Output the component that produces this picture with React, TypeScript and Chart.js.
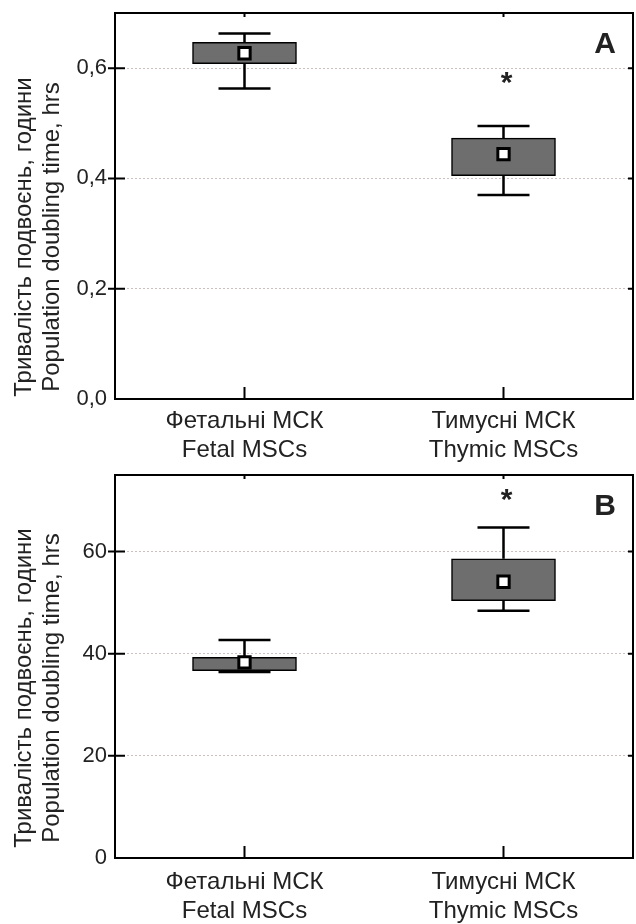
import React, { useEffect, useRef } from 'react';
import { Chart, registerables } from 'chart.js';

Chart.register(...registerables);

const FONT = 'Arial, "Liberation Sans", sans-serif';
const TEXT = '#222';

// ---- data ----
const categoriesUa = ['Фетальні МСК', 'Тимусні МСК'];
const categoriesEn = ['Fetal MSCs', 'Thymic MSCs'];
const axisTitleUa = 'Тривалість подвоєнь, години';
const axisTitleEn = 'Population doubling time, hrs';

// Panel A
const yTicksA = [0, 0.2, 0.4, 0.6];
const whiskerLowA = [0.563, 0.37];
const q1A = [0.608, 0.405];
const q3A = [0.647, 0.473];
const whiskerHighA = [0.663, 0.495];
const meanA = [0.627, 0.444];
const signifA = ['', '*'];
const signifPosA = [0, 0.582];

// Panel B
const yTicksB = [0, 20, 40, 60];
const whiskerLowB = [36.4, 48.4];
const q1B = [36.7, 50.4];
const q3B = [39.3, 58.6];
const whiskerHighB = [42.7, 64.7];
const meanB = [38.3, 54.1];
const signifB = ['', '*'];
const signifPosB = [0, 71.1];

type PanelCfg = {
  letter: string;
  yMax: number;
  yTicks: number[];
  fmt: (v: number) => string;
  low: number[];
  q1: number[];
  q3: number[];
  high: number[];
  mean: number[];
  signif: string[];
  signifPos: number[];
  xAxisHeight: number;
  xLabelPad: number;
  titleCenterY: number;
};

const panels: PanelCfg[] = [
  {
    letter: 'A',
    yMax: 0.7,
    yTicks: yTicksA,
    fmt: (v) => v.toFixed(1).replace('.', ','),
    low: whiskerLowA,
    q1: q1A,
    q3: q3A,
    high: whiskerHighA,
    mean: meanA,
    signif: signifA,
    signifPos: signifPosA,
    xAxisHeight: 63,
    xLabelPad: 8,
    titleCenterY: 237,
  },
  {
    letter: 'B',
    yMax: 75,
    yTicks: yTicksB,
    fmt: (v) => String(Math.round(v)),
    low: whiskerLowB,
    q1: q1B,
    q3: q3B,
    high: whiskerHighB,
    mean: meanB,
    signif: signifB,
    signifPos: signifPosB,
    xAxisHeight: 66,
    xLabelPad: 10,
    titleCenterY: 226,
  },
];

function makeDecor(cfg: PanelCfg) {
  return {
    id: 'boxDecor',
    afterDatasetDraw(chart: any, args: any) {
      if (args.index !== 0) return;
      const { ctx } = chart;
      const y = chart.scales.y;
      ctx.save();
      ctx.strokeStyle = '#000';
      ctx.lineWidth = 2.5;
      args.meta.data.forEach((bar: any, i: number) => {
        const { x, width } = bar.getProps(['x', 'width'], true);
        const half = width * 0.25;
        const yLo = y.getPixelForValue(cfg.low[i]);
        const yHi = y.getPixelForValue(cfg.high[i]);
        const yQ1 = y.getPixelForValue(cfg.q1[i]);
        const yQ3 = y.getPixelForValue(cfg.q3[i]);
        ctx.beginPath();
        ctx.moveTo(x, yQ3);
        ctx.lineTo(x, yHi);
        ctx.moveTo(x - half, yHi);
        ctx.lineTo(x + half, yHi);
        ctx.moveTo(x, yQ1);
        ctx.lineTo(x, yLo);
        ctx.moveTo(x - half, yLo);
        ctx.lineTo(x + half, yLo);
        ctx.stroke();
      });
      ctx.restore();
    },
    afterDraw(chart: any) {
      const { ctx, chartArea } = chart;
      const { left, right, top, bottom } = chartArea;
      const y = chart.scales.y;
      const x = chart.scales.x;
      ctx.save();
      // frame
      ctx.strokeStyle = '#000';
      ctx.lineWidth = 2;
      ctx.strokeRect(left, top, right - left, bottom - top);
      // y ticks
      cfg.yTicks.forEach((v) => {
        if (v === 0) return;
        const py = y.getPixelForValue(v);
        ctx.beginPath();
        ctx.moveTo(left - 7, py);
        ctx.lineTo(left + 10, py);
        ctx.moveTo(right - 5, py);
        ctx.lineTo(right, py);
        ctx.stroke();
      });
      // x ticks
      cfg.mean.forEach((_, i) => {
        const px = x.getPixelForValue(i);
        ctx.beginPath();
        ctx.moveTo(px, bottom);
        ctx.lineTo(px, bottom - 12);
        ctx.moveTo(px, top);
        ctx.lineTo(px, top + 4);
        ctx.stroke();
      });
      // significance marks
      ctx.fillStyle = TEXT;
      ctx.font = `bold 30px ${FONT}`;
      ctx.textAlign = 'center';
      ctx.textBaseline = 'alphabetic';
      cfg.signif.forEach((s, i) => {
        if (!s) return;
        const m = ctx.measureText(s);
        const px = x.getPixelForValue(i) + 3;
        const py = y.getPixelForValue(cfg.signifPos[i]);
        ctx.fillText(s, px, py + (m.actualBoundingBoxAscent - m.actualBoundingBoxDescent) / 2);
      });
      // panel letter
      ctx.font = `bold 30px ${FONT}`;
      ctx.textBaseline = 'middle';
      ctx.fillText(cfg.letter, right - 28, top + 32);
      // axis title
      ctx.font = `24px ${FONT}`;
      ctx.fillStyle = TEXT;
      [axisTitleUa, axisTitleEn].forEach((t, k) => {
        ctx.save();
        ctx.translate(k === 0 ? 24 : 52, cfg.titleCenterY);
        ctx.rotate(-Math.PI / 2);
        ctx.textAlign = 'center';
        ctx.textBaseline = 'middle';
        ctx.fillText(t, 0, 0);
        ctx.restore();
      });
      ctx.restore();
    },
  };
}

function zeroPad(s: any) {
  s.paddingTop = 0;
  s.paddingBottom = 0;
  s.paddingLeft = 0;
  s.paddingRight = 0;
}

function Panel({ cfg }: { cfg: PanelCfg }) {
  const ref = useRef<HTMLCanvasElement>(null);
  useEffect(() => {
    if (!ref.current) return;
    const labels = categoriesUa.map((u, i) => [u, categoriesEn[i]]);
    const chart = new Chart(ref.current, {
      type: 'bar',
      data: {
        labels,
        datasets: [
          {
            type: 'bar',
            data: cfg.q1.map((v, i) => [v, cfg.q3[i]]) as any,
            backgroundColor: '#6e6e6e',
            borderColor: '#000',
            borderWidth: 1.5,
            borderSkipped: false,
            barThickness: 104,
            order: 1,
          },
          {
            type: 'line',
            data: cfg.mean,
            showLine: false,
            pointStyle: 'rect',
            pointRadius: 8,
            pointBackgroundColor: '#fff',
            pointBorderColor: '#000',
            pointBorderWidth: 3,
            order: 0,
          } as any,
        ],
      },
      options: {
        responsive: false,
        animation: false,
        layout: { autoPadding: false, padding: { top: 13, right: 3, left: 0, bottom: 0 } },
        plugins: { legend: { display: false }, tooltip: { enabled: false } },
        scales: {
          x: {
            offset: true,
            grid: { display: false, drawTicks: false },
            border: { display: false },
            ticks: {
              font: { family: FONT, size: 24, lineHeight: 1.2 },
              color: TEXT,
              padding: cfg.xLabelPad,
              maxRotation: 0,
              autoSkip: false,
            },
            afterFit: (s: any) => {
              s.height = cfg.xAxisHeight;
              zeroPad(s);
            },
          },
          y: {
            min: 0,
            max: cfg.yMax,
            afterBuildTicks: (s: any) => {
              s.ticks = cfg.yTicks.map((v) => ({ value: v }));
            },
            afterFit: (s: any) => {
              s.width = 115;
              zeroPad(s);
            },
            grid: { color: 'rgba(190,170,170,0.75)', lineWidth: 1, drawTicks: false },
            border: { display: false, dash: [2, 2] },
            ticks: {
              font: { family: FONT, size: 22 },
              color: TEXT,
              padding: 8,
              callback: (v: any) => cfg.fmt(Number(v)),
            },
          },
        },
      } as any,
      plugins: [makeDecor(cfg)],
    });
    return () => chart.destroy();
  }, [cfg]);
  return (
    <canvas ref={ref} width={636} height={462} style={{ display: 'block', width: 636, height: 462 }} />
  );
}

export default function App() {
  return (
    <div style={{ position: 'absolute', left: 0, top: 0, width: 636, height: 924, background: '#fff' }}>
      {panels.map((p) => (
        <Panel key={p.letter} cfg={p} />
      ))}
    </div>
  );
}
